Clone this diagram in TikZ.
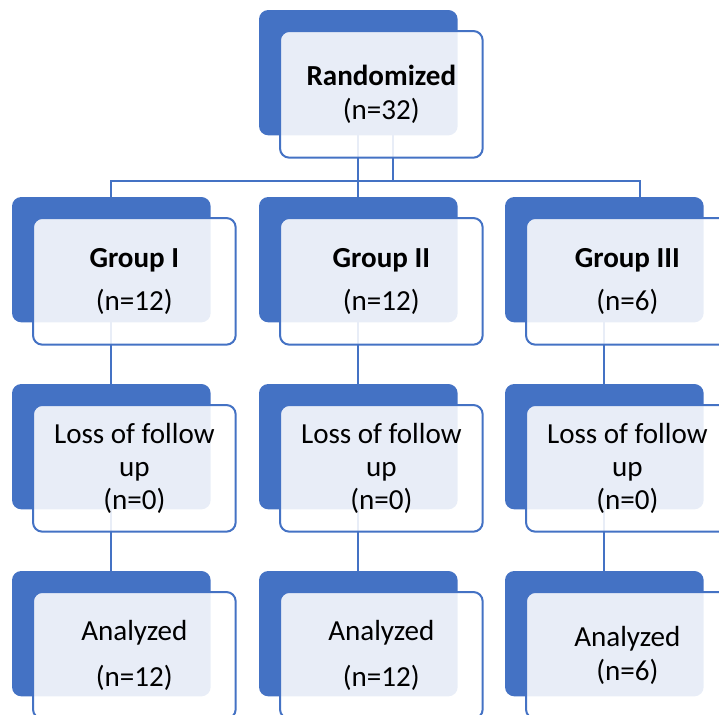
\documentclass[tikz,border=0pt]{standalone}
\usepackage{fontspec}
\setmainfont{Carlito}
\usetikzlibrary{calc, backgrounds}
\definecolor{smblue}{HTML}{4472C4}
\tikzset{
    back/.style = {rectangle, rounded corners=7pt, fill=smblue,
        minimum width=149pt, minimum height=94pt,
        inner sep=0pt, outer sep=0pt, anchor=north west},
    front/.style = {rectangle, rounded corners=7pt, draw=smblue, line width=1.5pt,
        fill=white, fill opacity=0.88, text opacity=1,
        minimum width=152pt, minimum height=95pt,
        inner sep=0pt, outer sep=0pt, anchor=north west,
        align=center, font=\fontsize{21.8}{25}\selectfont},
    link/.style = {draw=smblue, line width=1.5pt},
    pics/sbox/.style = {
        code = {%
        \node[back] (-back) at (0,0) {};
        \node[front] (-front) at (21,21) {#1};
        }
    },
}

\begin{document}
\begin{tikzpicture}[x=0.75pt, y=-0.75pt]
\useasboundingbox (0,0) rectangle (719,715);
\clip (0,0) rectangle (719,715);

\pic (r) at (259,10) {sbox={\textbf{Randomized}\\(n=32)}};

\pic (g1) at (12,197) {sbox={\textbf{Group I}\\[7pt](n=12)}};
\pic (g2) at (259,197) {sbox={\textbf{Group II}\\[7pt](n=12)}};
\pic (g3) at (505,197) {sbox={\textbf{Group III}\\[7pt](n=6)}};

\pic (l1) at (12,384) {sbox={Loss of follow\\up\\(n=0)}};
\pic (l2) at (259,384) {sbox={Loss of follow\\up\\(n=0)}};
\pic (l3) at (505,384) {sbox={Loss of follow\\up\\(n=0)}};

\pic (a1) at (12,571) {sbox={Analyzed\\[9pt](n=12)}};
\pic (a2) at (259,571) {sbox={Analyzed\\[9pt](n=12)}};
\pic (a3) at (505,571) {sbox={Analyzed\\(n=6)}};

% connectors go behind the boxes
\begin{scope}[on background layer]
\coordinate (rout) at ($(r-back.south)+(35,0)$);
\coordinate (hub) at ($(r-back.south)+(35,46)$);
\coordinate (g3in) at ($(g3-back.north)+(36,0)$);
\draw[link] (r-back.south) -- (g2-back.north);
\draw[link] (rout) -- (hub);
\draw[link] (g1-back.north) |- (hub) -| (g3in);

\foreach \c in {1,2,3}{
  \draw[link] (g\c-back.south) -- (l\c-back.north);
  \draw[link] (l\c-back.south) -- (a\c-back.north);
}
\end{scope}
\end{tikzpicture}
\end{document}
